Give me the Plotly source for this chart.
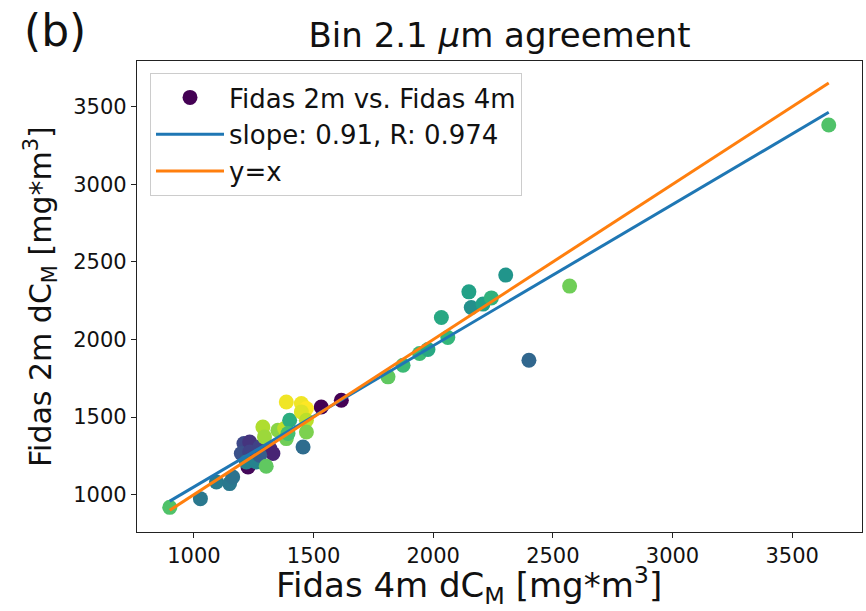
import plotly.graph_objects as go

# Fidas 4m (x) vs Fidas 2m (y), colour value (viridis, 0..1)
x_4m = [1532, 1616, 899, 1027, 1094, 1149, 1162, 1209, 1233, 1198, 1233, 1275,
        1317, 1330, 1226, 1219, 1261, 1275, 1302, 1288, 1295, 1351, 1379, 1386,
        1400, 1393, 1386, 1449, 1470, 1449, 1470, 1470, 1456, 1811, 1874, 1943,
        1978, 2061, 2034, 2149, 2159, 2208, 2243, 2303, 2400, 2570, 3653]
y_2m = [1565, 1608, 918, 974, 1081, 1071, 1114, 1329, 1339, 1265, 1275, 1307,
        1297, 1265, 1178, 1210, 1210, 1254, 1183, 1436, 1372, 1415, 1426, 1361,
        1479, 1394, 1597, 1587, 1555, 1533, 1479, 1404, 1307, 1759, 1834, 1910,
        1935, 2013, 2142, 2307, 2206, 2228, 2268, 2415, 1866, 2344, 3382]
c_val = [0.0, 0.0, 0.72, 0.40, 0.42, 0.40, 0.38, 0.22, 0.15, 0.25, 0.20, 0.20,
         0.12, 0.10, 0.02, 0.45, 0.45, 0.30, 0.75, 0.88, 0.85, 0.82, 0.90, 0.78,
         0.62, 0.70, 0.98, 0.98, 1.00, 0.95, 0.90, 0.80, 0.35, 0.75, 0.68, 0.68,
         0.60, 0.66, 0.60, 0.57, 0.50, 0.57, 0.64, 0.52, 0.33, 0.78, 0.72]

slope = 0.91
intercept = 140
fit_x = [min(x_4m), max(x_4m)]
fit_y = [slope * v + intercept for v in fit_x]
one_x = [min(x_4m), max(x_4m)]
one_y = list(one_x)

x_ticks = [1000, 1500, 2000, 2500, 3000, 3500]
y_ticks = [1000, 1500, 2000, 2500, 3000, 3500]

FONT = "DejaVu Sans"
W, H = 866, 611
ML, MR, MT, MB = 137, 4, 61, 79

fig = go.Figure()
fig.add_trace(go.Scatter(
    x=x_4m, y=y_2m, mode="markers", name="Fidas 2m vs. Fidas 4m",
    legendgroup="a",
    marker=dict(size=15, color=c_val, colorscale="Viridis", cmin=0, cmax=1,
                line=dict(width=0), opacity=1)))
fig.add_trace(go.Scatter(
    x=fit_x, y=fit_y, mode="lines", name="slope: 0.91, R: 0.974",
    legendgroup="b", line=dict(color="#1f77b4", width=3)))
fig.add_trace(go.Scatter(
    x=one_x, y=one_y, mode="lines", name="y=x",
    legendgroup="c", line=dict(color="#ff7f0e", width=3)))

axis_common = dict(showgrid=False, zeroline=False, showline=True,
                   linecolor="#222222", linewidth=1.3, mirror=True,
                   ticks="outside", ticklen=5, tickwidth=1.3, tickcolor="#222222",
                   tickfont=dict(family=FONT, size=21, color="#111111"))

pw, ph = W - ML - MR, H - MT - MB


def px_to_paper(xp, yp):
    return (xp - ML) / pw, ((H - yp) - MB) / ph


ann_specs = [
    ("Fidas 4m dC<sub>M</sub> [mg*m<sup>3</sup>]", 469, 585.5, 34, 0),
    ("Fidas 2m dC<sub>M</sub> [mg*m<sup>3</sup>]", 40, 297, 30, -90),
    ("(b)", 55, 30, 44, 0),
]
annotations = []
for text, xp, yp, size, ang in ann_specs:
    ax, ay = px_to_paper(xp, yp)
    annotations.append(dict(text=text, x=ax, y=ay, xref="paper", yref="paper",
                            xanchor="center", yanchor="middle", showarrow=False,
                            textangle=ang,
                            font=dict(family=FONT, size=size, color="#111111")))

lx, ly = px_to_paper(150, 73)

fig.update_layout(
    width=W, height=H,
    margin=dict(l=ML, r=MR, t=MT, b=MB),
    plot_bgcolor="white", paper_bgcolor="white",
    font=dict(family=FONT, color="#111111"),
    title=dict(text="Bin 2.1 <i>μ</i>m agreement", x=0.5, xref="paper",
               y=1 - 35 / H, yref="container", yanchor="middle",
               font=dict(family=FONT, size=34, color="#111111")),
    xaxis=dict(range=[762, 3792], tickvals=x_ticks, **axis_common),
    yaxis=dict(range=[759, 3795], tickvals=y_ticks, **axis_common),
    legend=dict(x=lx, y=ly, xanchor="left", yanchor="top",
                bgcolor="rgba(255,255,255,0.8)", bordercolor="#cccccc",
                borderwidth=1, traceorder="grouped", tracegroupgap=0,
                itemwidth=68,
                font=dict(family=FONT, size=26, color="#111111")),
    showlegend=True,
    annotations=annotations,
)

fig.write_html("out.html", config={"displayModeBar": False},
               post_script="document.body.style.margin='0px';")
